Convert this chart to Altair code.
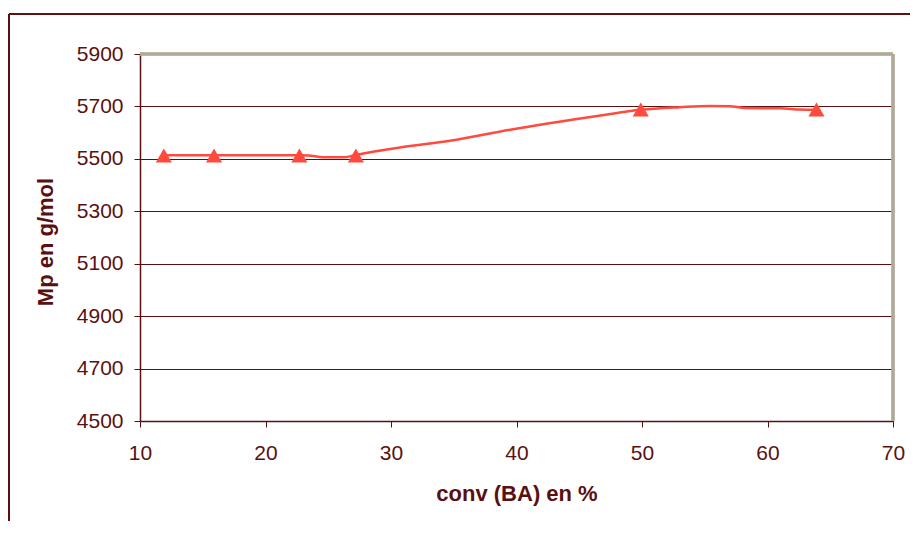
import altair as alt
import pandas as pd

# Marker series
conv_pts = [11.9, 15.9, 22.7, 27.2, 49.9, 63.9]
mp_pts = [5513, 5513, 5513, 5513, 5688, 5688]

# Smoothed curve
conv_curve = [11.9, 15.9, 22.7, 23.4, 24.6, 26.3, 27.2, 30.7, 34.7, 39.5,
              46.7, 49.9, 53.0, 55.4, 57.0, 58.2, 61.0, 62.6, 63.9]
mp_curve = [5514, 5514, 5514, 5513, 5506, 5506, 5515, 5543, 5569, 5611,
            5665, 5687, 5697, 5702, 5701, 5694, 5693, 5688, 5687]

x_ticks = [10, 20, 30, 40, 50, 60, 70]
y_ticks = [4500, 4700, 4900, 5100, 5300, 5500, 5700, 5900]

pts = pd.DataFrame({"conv": conv_pts, "mp": mp_pts})
curve = pd.DataFrame({"conv": conv_curve, "mp": mp_curve})

MAROON = "#5a1010"
RED = "#ff4a3d"
GRAY = "#b0a898"
FONT = "Liberation Sans"

W, H = 753, 367

xs = alt.Scale(domain=[10, 70], nice=False, zero=False)
ys = alt.Scale(domain=[4500, 5900], nice=False, zero=False)

xaxis = alt.Axis(values=x_ticks, grid=False, tickSize=6, tickColor=MAROON,
                 domainColor=MAROON, domainWidth=1.5, labelFont=FONT,
                 labelFontSize=21, labelColor=MAROON, labelPadding=15,
                 labelFlush=False, format="d",
                 title="conv (BA) en %", titleFont=FONT, titleFontSize=22,
                 titleFontWeight="bold", titleColor=MAROON, titleY=79,
                 titleBaseline="alphabetic")
yaxis = alt.Axis(values=y_ticks, grid=True, gridColor=MAROON, gridWidth=1,
                 tickSize=6, tickColor=MAROON, domainColor=MAROON,
                 domainWidth=1.5, labelFont=FONT, labelFontSize=21,
                 labelColor=MAROON, labelPadding=11, labelFlush=False,
                 format="d", title="Mp en g/mol",
                 titleFont=FONT, titleFontSize=22, titleFontWeight="bold",
                 titleColor=MAROON, titleX=-83, titleY=H / 2 + 4,
                 titleBaseline="bottom")

line = alt.Chart(curve).mark_line(color=RED, strokeWidth=2.5,
                                  interpolate="monotone").encode(
    x=alt.X("conv:Q", scale=xs, axis=xaxis),
    y=alt.Y("mp:Q", scale=ys, axis=yaxis),
)

markers = alt.Chart(pts).mark_point(shape="triangle-up", filled=True,
                                    color=RED, size=260, opacity=1).encode(
    x=alt.X("conv:Q", scale=xs),
    y=alt.Y("mp:Q", scale=ys),
)

top_border = alt.Chart(pts).mark_rule(color=GRAY, strokeWidth=2.5).encode(
    x=alt.value(0), x2=alt.value(W), y=alt.value(0))
right_border = alt.Chart(pts).mark_rule(color=GRAY, strokeWidth=2.5).encode(
    x=alt.value(W), y=alt.value(0), y2=alt.value(H))

frame_top = alt.Chart(pts).mark_rule(color=MAROON, strokeWidth=1.2).encode(
    x=alt.value(-131), x2=alt.value(800), y=alt.value(-40))
frame_left = alt.Chart(pts).mark_rule(color=MAROON, strokeWidth=1.2).encode(
    x=alt.value(-131), y=alt.value(-40), y2=alt.value(500))

chart = alt.layer(top_border, right_border, frame_top, frame_left,
                  line, markers).properties(
    width=W, height=H,
    autosize=alt.AutoSizeParams(type="none"),
    padding={"left": 132, "top": 46, "right": 17, "bottom": 100},
).configure_view(stroke=None).configure(background="white")

chart.save("out.html", embed_options={"renderer": "svg", "actions": False})
